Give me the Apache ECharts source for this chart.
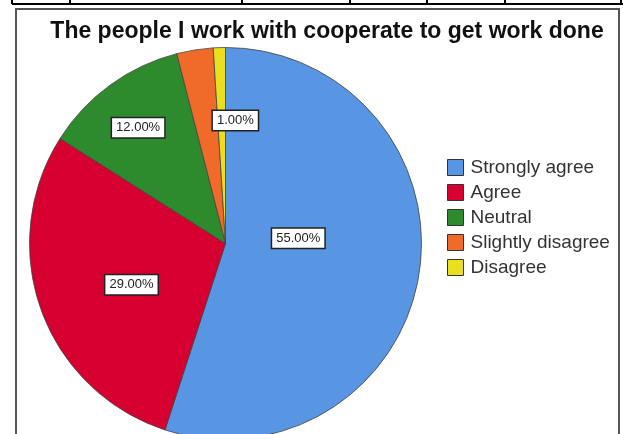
<!DOCTYPE html>
<html>
<head>
<meta charset="utf-8">
<script src="https://cdn.jsdelivr.net/npm/echarts@6/dist/echarts.min.js"></script>
<style>
  html, body { margin: 0; padding: 0; background: #fff; }
  #chart { width: 623px; height: 434px; }
</style>
</head>
<body>
<div id="chart"></div>
<script>
(function() {
	'use strict';
	// answers and their share of respondents (%)
	var categories = ['Strongly agree', 'Agree', 'Neutral', 'Slightly disagree', 'Disagree'];
	var percents = [55, 29, 12, 3, 1];
	var showLabel = [true, true, true, false, true];
	var colors = ['#5895E2', '#D5002F', '#2D8B2E', '#F06A2A', '#E9DF1E'];

	// label nudges so boxes sit where the original put them
	var labelShift = [[-27, -21], [1, 7], [-28, -34], [0, 0], [13, -22]];

	var seriesData = categories.map(function(name, i) {
		return {
			name: name,
			value: percents[i],
			itemStyle: { color: colors[i] },
			label: { show: showLabel[i], offset: labelShift[i] }
		};
	});

	var line = function(x1, y1, x2, y2, w, c) {
		return { type: 'line', silent: true, z: 100,
			shape: { x1: x1, y1: y1, x2: x2, y2: y2 },
			style: { stroke: c || '#000', lineWidth: w || 1.5 } };
	};

	var chart = echarts.init(document.getElementById('chart'), null, { renderer: 'canvas' });
	var option = {
		animation: false,
		color: colors,
		title: {
			text: 'The people I work with cooperate to get work done',
			left: 322, top: 15, textAlign: 'center',
			textStyle: { fontFamily: 'Liberation Sans', fontWeight: 'bold', fontSize: 23, color: '#111' }
		},
		legend: {
			orient: 'vertical',
			left: 447, top: 158,
			padding: 0,
			itemWidth: 16, itemHeight: 16, itemGap: 6,
			icon: 'rect',
			selectedMode: false,
			itemStyle: { borderColor: '#333', borderWidth: 1 },
			textStyle: { fontFamily: 'Liberation Sans', fontSize: 19, lineHeight: 19, color: '#333', padding: [0, 0, 0, 2] },
			data: categories
		},
		graphic: [
			// table rule lines above the chart frame
			line(12, 4, 623, 4, 2),
			line(12, 0, 12, 4, 2),
			line(70, 0, 70, 4, 2),
			line(242, 0, 242, 4, 2),
			line(350, 0, 350, 4, 2),
			line(427, 0, 427, 4, 2),
			line(505, 0, 505, 4, 2),
			line(621, 0, 621, 4, 2),
			// chart frame
			{ type: 'rect', silent: true, z: 100,
			  shape: { x: 16, y: 9, width: 603, height: 440 },
			  style: { fill: null, stroke: '#555', lineWidth: 2 } }
		],
		series: [{
			type: 'pie',
			center: [225.5, 243.5],
			radius: 196,
			startAngle: 90,
			clockwise: true,
			emphasis: { disabled: true },
			itemStyle: { borderColor: '#444', borderWidth: 0.8 },
			label: {
				position: 'inside',
				formatter: function(p) { return p.value.toFixed(2) + '%'; },
				fontFamily: 'Liberation Sans',
				fontSize: 13,
				color: '#222',
				backgroundColor: '#fff',
				borderColor: '#222',
				borderWidth: 1.5,
				padding: [3, 4, 3, 4]
			},
			labelLine: { show: false },
			data: seriesData
		}]
	};
	chart.setOption(option);
})();
</script>
</body>
</html>
